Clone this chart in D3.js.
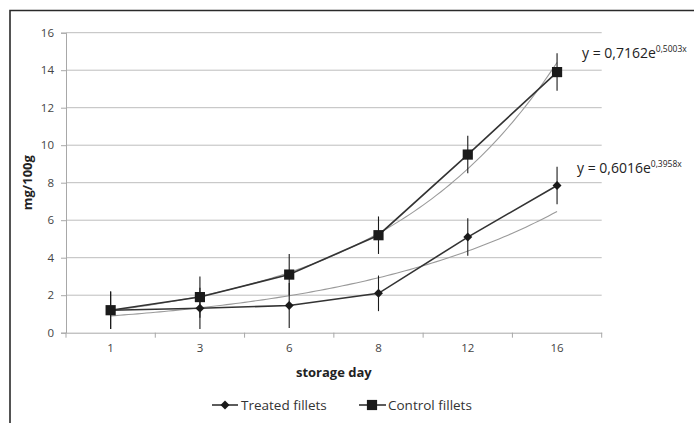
<!DOCTYPE html>
<html><head><meta charset="utf-8">
<script src="https://cdn.jsdelivr.net/npm/d3@7"></script>
<style>body{margin:0;background:#fff;} svg{display:block;font-family:"Open Sans",sans-serif;}</style>
</head><body>
<svg id="c" width="694" height="423"></svg>
<script>
const categories = ["1","3","6","8","12","16"];
const treated = [1.2, 1.3, 1.45, 2.1, 5.1, 7.85];
const treatedErr = [1.0, 1.1, 1.2, 0.95, 1.0, 1.0];
const control = [1.2, 1.9, 3.1, 5.2, 9.5, 13.9];
const controlErr = [1.0, 1.1, 1.1, 1.0, 1.0, 1.0];
const yTicks = [0,2,4,6,8,10,12,14,16];
const treatedFit = [0.6016, 0.3958];
const controlFit = [0.7162, 0.5003];
const seriesNames = ["Treated fillets","Control fillets"];

const FONT = "'Open Sans',sans-serif";
const svg = d3.select("#c");
const L = 66, R = 601.7, T = 32.7, B = 332.7;
const x = d3.scaleBand().domain(categories).range([L, R]);
const y = d3.scaleLinear().domain([0,16]).range([B, T]);
const xi = d3.scaleLinear().domain([1, categories.length]).range([x(categories[0]) + x.bandwidth()/2, x(categories[categories.length-1]) + x.bandwidth()/2]);

// frame
svg.append("path").attr("d","M10,423 L10,10.5 L694,10.5").attr("fill","none").attr("stroke","#2a2a2a").attr("stroke-width",1.6);

// gridlines
svg.append("g").selectAll("line").data(yTicks.filter(d=>d>0)).join("line")
  .attr("x1",L).attr("x2",R).attr("y1",d=>y(d)).attr("y2",d=>y(d))
  .attr("stroke","#bdbdbd").attr("stroke-width",1);

// y axis
const ya = svg.append("g").attr("transform",`translate(${L},0)`).call(d3.axisLeft(y).tickValues(yTicks).tickSize(5).tickPadding(7));
ya.select(".domain").attr("stroke","#a8a8a8");
ya.selectAll(".tick line").attr("stroke","#a8a8a8");
ya.selectAll("text").attr("font-size",11.5).attr("fill","#444").attr("font-family",FONT);

// x axis
const xa = svg.append("g").attr("transform",`translate(0,${B})`).call(d3.axisBottom(x).tickSize(0).tickPadding(11));
xa.select(".domain").attr("stroke","#a8a8a8");
xa.selectAll(".tick line").remove();
xa.selectAll("text").attr("font-size",11.5).attr("fill","#444").attr("font-family",FONT);
const bounds = categories.map(c=>x(c)).concat([R]);
svg.append("g").selectAll("line").data(bounds).join("line")
  .attr("x1",d=>d).attr("x2",d=>d).attr("y1",B).attr("y2",B+5).attr("stroke","#a8a8a8");

// axis titles
svg.append("text").attr("x",(L+R)/2).attr("y",377).attr("text-anchor","middle")
  .attr("font-size",13).attr("font-weight","bold").attr("fill","#222").text("storage day");
svg.append("text").attr("transform",`translate(32,${(T+B)/2}) rotate(-90)`).attr("text-anchor","middle")
  .attr("font-size",13).attr("font-weight","bold").attr("fill","#222").text("mg/100g");

// trendlines
function fitPts(f){
  const pts=[]; for(let t=1;t<=categories.length+1e-9;t+=0.05) pts.push([t, f[0]*Math.exp(f[1]*t)]);
  return pts;
}
const tl = d3.line().x(d=>xi(d[0])).y(d=>y(d[1]));
[treatedFit, controlFit].forEach(f=>{
  svg.append("path").attr("d",tl(fitPts(f))).attr("fill","none").attr("stroke","#9a9a9a").attr("stroke-width",1.1);
});

// error bars
function errBars(vals, errs){
  svg.append("g").selectAll("line").data(vals).join("line")
    .attr("x1",(d,i)=>x(categories[i])+x.bandwidth()/2).attr("x2",(d,i)=>x(categories[i])+x.bandwidth()/2)
    .attr("y1",(d,i)=>y(d+errs[i])).attr("y2",(d,i)=>y(d-errs[i]))
    .attr("stroke","#1a1a1a").attr("stroke-width",1.1);
}
errBars(treated, treatedErr);
errBars(control, controlErr);

// data lines
const dl = d3.line().x((d,i)=>x(categories[i])+x.bandwidth()/2).y(d=>y(d));
[treated, control].forEach(s=>{
  svg.append("path").attr("d",dl(s)).attr("fill","none").attr("stroke","#333").attr("stroke-width",1.6);
});

// markers
const sq = d3.symbol().type(d3.symbolSquare).size(104);
const dm = d3.symbol().type(d3.symbolSquare).size(40);
svg.append("g").selectAll("path").data(treated).join("path")
  .attr("d",dm).attr("transform",(d,i)=>`translate(${x(categories[i])+x.bandwidth()/2},${y(d)}) rotate(45)`).attr("fill","#1a1a1a");
svg.append("g").selectAll("path").data(control).join("path")
  .attr("d",sq).attr("transform",(d,i)=>`translate(${x(categories[i])+x.bandwidth()/2},${y(d)})`).attr("fill","#1a1a1a");

// equations
function eq(xp, yp, f){
  const t = svg.append("text").attr("x",xp).attr("y",yp).attr("font-size",14).attr("fill","#222").attr("font-family",FONT);
  t.append("tspan").text("y = " + String(f[0]).replace(".",",") + "e");
  t.append("tspan").attr("font-size",8.5).attr("dy",-6).text(f[1].toFixed(4).replace(".",",") + "x");
}
eq(582, 58, controlFit);
eq(577, 173, treatedFit);

// legend
const lg = svg.append("g");
lg.append("line").attr("x1",212).attr("x2",238).attr("y1",405).attr("y2",405).attr("stroke","#333").attr("stroke-width",1.6);
lg.append("path").attr("d",dm).attr("transform","translate(225,405) rotate(45)").attr("fill","#1a1a1a");
lg.append("text").attr("x",241).attr("y",410).attr("font-size",13.5).attr("fill","#333").text(seriesNames[0]);
lg.append("line").attr("x1",359).attr("x2",386).attr("y1",405).attr("y2",405).attr("stroke","#333").attr("stroke-width",1.6);
lg.append("path").attr("d",sq).attr("transform","translate(372,405)").attr("fill","#1a1a1a");
lg.append("text").attr("x",388).attr("y",410).attr("font-size",13.5).attr("fill","#333").text(seriesNames[1]);
</script>
</body></html>
